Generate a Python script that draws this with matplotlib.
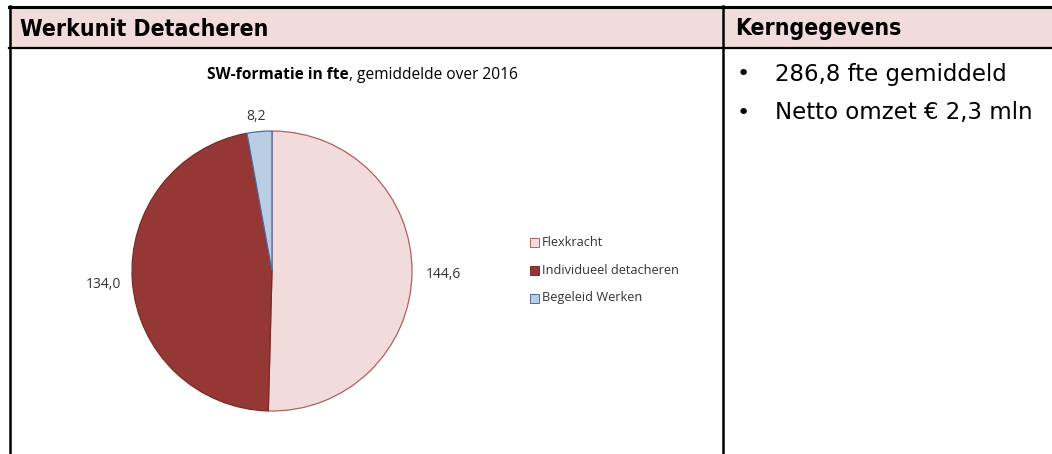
import matplotlib
matplotlib.use("Agg")
import matplotlib.pyplot as plt
from matplotlib.patches import Rectangle
from matplotlib.lines import Line2D

categories = ["Flexkracht", "Individueel detacheren", "Begeleid Werken"]
values = [144.6, 134.0, 8.2]
value_labels = ["144,6", "134,0", "8,2"]
colors = ["#F2DCDB", "#953735", "#B9CDE5"]
edges = ["#B0605E", "#7A2A28", "#4A6E9E"]
header_left = "Werkunit Detacheren"
header_right = "Kerngegevens"
bullets = ["286,8 fte gemiddeld", "Netto omzet € 2,3 mln"]

W, H = 1052, 454
fig = plt.figure(figsize=(W / 100, H / 100), dpi=100)

bg = fig.add_axes([0, 0, 1, 1])
bg.set_xlim(0, W)
bg.set_ylim(H, 0)
bg.axis("off")

# header fill
bg.add_patch(Rectangle((9, 7), W - 9, 40, facecolor="#F2DCDB", edgecolor="none", zorder=0))
# table lines
bg.add_line(Line2D([9, W], [7, 7], color="black", lw=2.2))
bg.add_line(Line2D([9, W], [47.5, 47.5], color="black", lw=1.6))
bg.add_line(Line2D([9.5, 9.5], [6, H], color="black", lw=1.8))
bg.add_line(Line2D([723, 723], [6, H], color="black", lw=1.8))

hfont = ["DejaVu Sans"]
bg.text(20, 29, header_left, fontsize=16.5, fontweight="bold", family=hfont,
        stretch="condensed", va="center", ha="left")
bg.text(735, 29, header_right, fontsize=16.5, fontweight="bold", family=hfont,
        stretch="condensed", va="center", ha="left")

bfont = ["DejaVu Sans"]
for i, b in enumerate(bullets):
    y = 74 + i * 39
    bg.text(737, y, "\u2022", fontsize=16, family=bfont, va="center", ha="left")
    bg.text(775, y, b, fontsize=16.5, family=bfont, va="center", ha="left")

# chart title (bold part + regular part)
cfont = ["Open Sans", "DejaVu Sans"]
t1 = bg.text(207, 75, "SW-formatie in fte", fontsize=11.2, fontweight="bold",
             family=cfont, va="center", ha="left")
fig.canvas.draw()
bb = t1.get_window_extent()
xd, _ = bg.transData.inverted().transform((bb.x1, 0))
bg.text(xd, 75, ", gemiddelde over 2016", fontsize=11.2, family=cfont,
        va="center", ha="left")

# pie
cx, cy, r = 272, 271, 140
pax = fig.add_axes([(cx - r) / W, (H - cy - r) / H, 2 * r / W, 2 * r / H])
wedges, _ = pax.pie(values, colors=colors, startangle=90, counterclock=False,
                    wedgeprops=dict(linewidth=0.9))
for w, e in zip(wedges, edges):
    w.set_edgecolor(e)
pax.set_xlim(-1, 1)
pax.set_ylim(-1, 1)
pax.set_aspect("equal")
pax.axis("off")

# data labels
label_pos = [(443, 275), (103, 284), (256, 117)]
for (lx, ly), lab in zip(label_pos, value_labels):
    bg.text(lx, ly, lab, fontsize=10, family=cfont, color="#333333", va="center", ha="center")

# legend
for i, (c, e, name) in enumerate(zip(colors, edges, categories)):
    y = 242 + i * 28
    bg.add_patch(Rectangle((530, y - 4.5), 9, 9, facecolor=c, edgecolor=e, lw=0.7))
    bg.text(542, y, name, fontsize=9.2, family=cfont, color="#333333", va="center", ha="left")

fig.savefig("out.png", dpi=100)
